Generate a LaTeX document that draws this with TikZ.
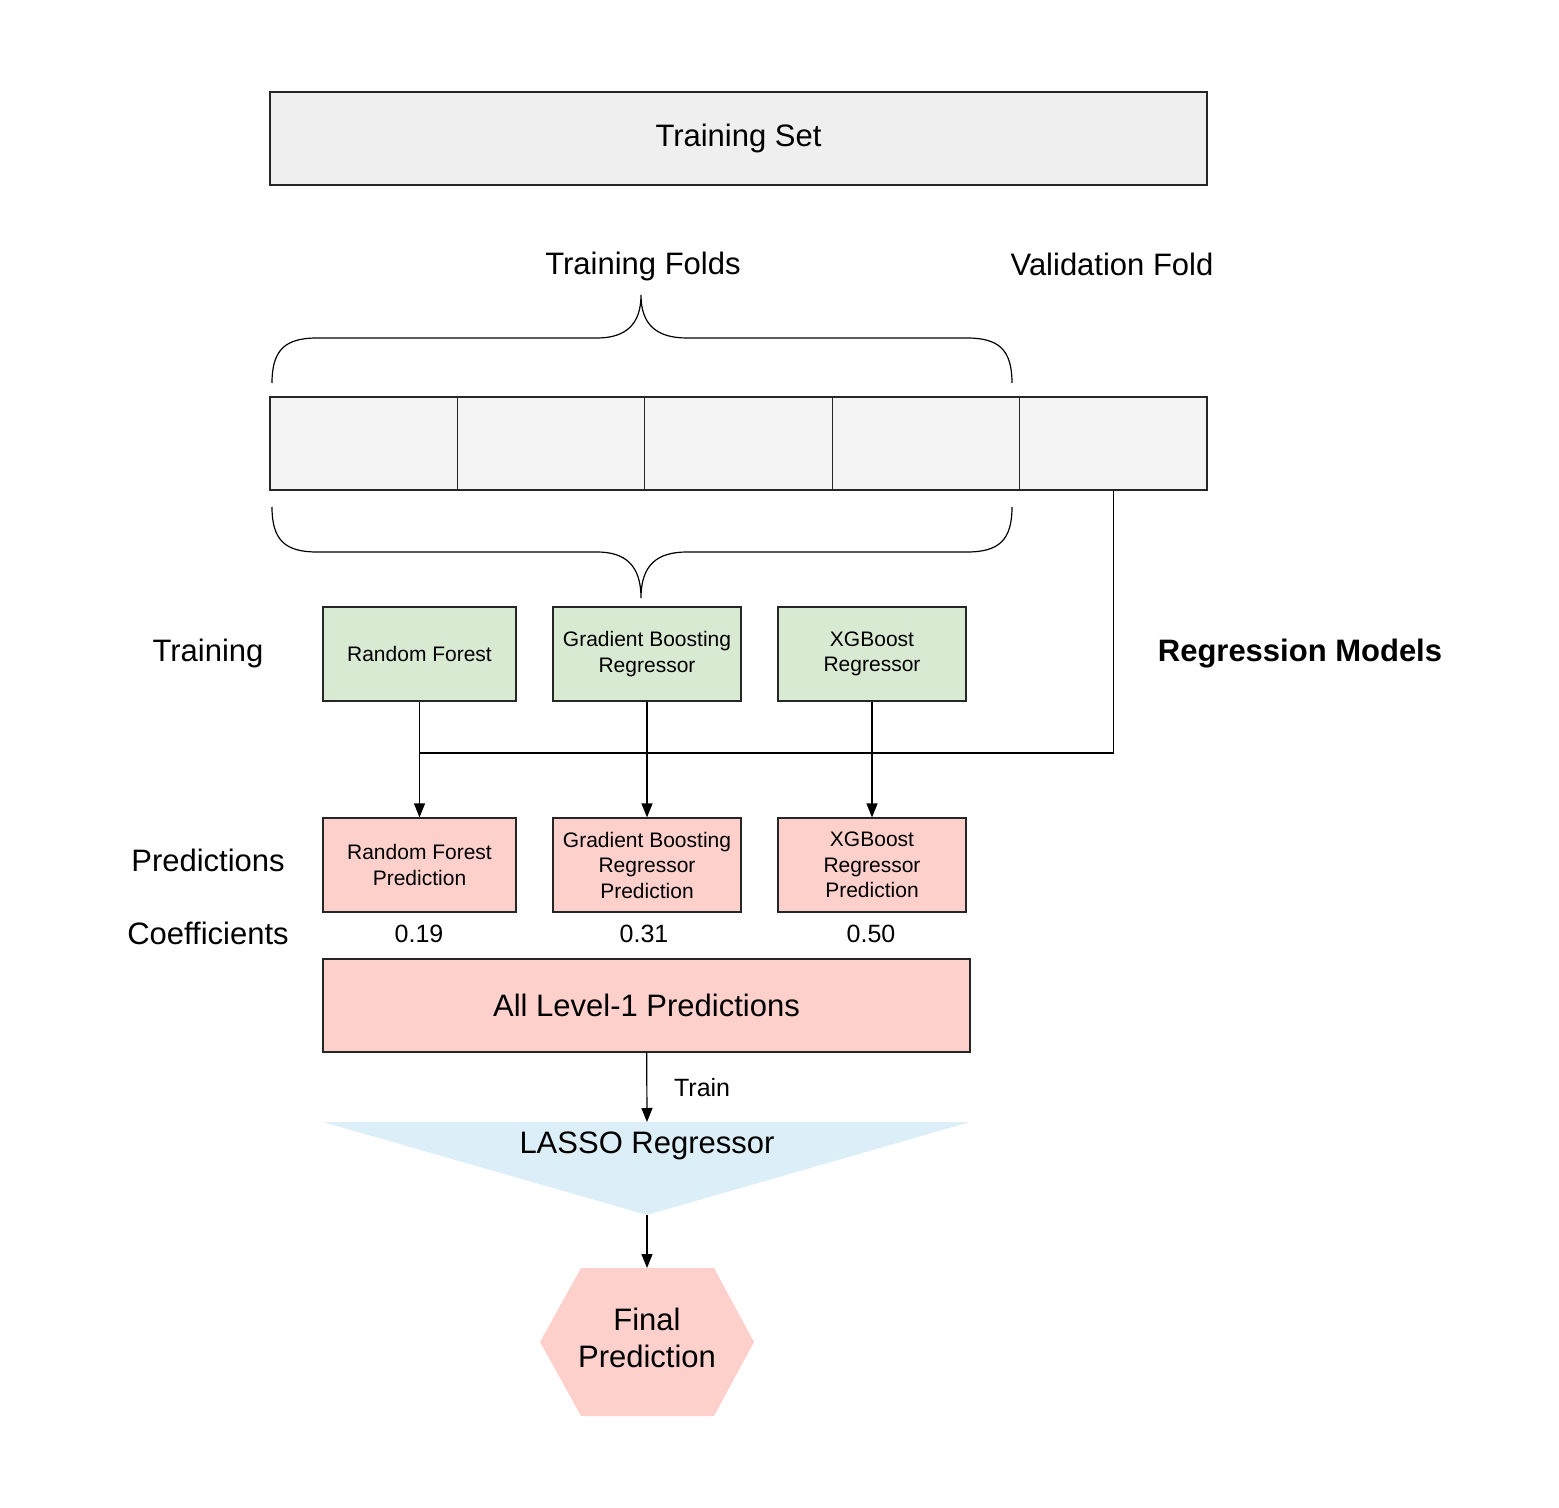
\documentclass[tikz,border=0pt]{standalone}
\usepackage{fontspec}
\setmainfont{Liberation Sans}
\usetikzlibrary{arrows.meta}

\definecolor{setgray}{RGB}{239,239,239}
\definecolor{foldgray}{RGB}{244,244,244}
\definecolor{modelgreen}{RGB}{217,234,211}
\definecolor{predpink}{RGB}{253,208,204}
\definecolor{lassoblue}{RGB}{220,238,248}

\begin{document}
\begin{tikzpicture}[
            x = 0.5pt, y = -0.5pt,
            every node/.style = {font = \fontsize{15.5}{18.6}\selectfont, align = center},
            box/.style = {draw = black!85, line width = 0.6pt, minimum height = 46.5pt, inner sep = 0pt},
            fold/.style = {box, fill = foldgray, minimum width = 93.7pt},
            model/.style = {box, fill = modelgreen, minimum width = 94pt, minimum height = 47pt,
                            font = \fontsize{10.5}{12.75}\selectfont},
            pred/.style = {model, fill = predpink},
            coef/.style = {font = \fontsize{12.5}{15}\selectfont},
            link/.style = {line width = 0.6pt, -{Triangle[length = 7pt, width = 5.5pt]}},
            brace/.style = {line width = 0.6pt}
            ]
            \useasboundingbox (0,0) rectangle (1559,1508);

            \node[box, fill = setgray, minimum width = 468.5pt] (set) at (738.5,138.5) {Training Set};
            \node (folds) at (643,266) {Training Folds};
            \node (valid) at (1112,264) {Validation Fold};

            % five folds of the training set
            \foreach \i in {1,...,5}
                \node[fold] (fold\i) at ({270+187.4*(\i-0.5)},443.5) {};

            % braces round the training folds
            \draw[brace] (272,383) .. controls (272,350) and (285,338) .. (317,338) -- (597,338)
                .. controls (625,338) and (641,325) .. (641,295)
                .. controls (641,325) and (657,338) .. (687,338) -- (967,338)
                .. controls (999,338) and (1012,350) .. (1012,383);
            \draw[brace] (272,507) .. controls (272,540) and (285,552) .. (317,552) -- (597,552)
                .. controls (625,552) and (641,565) .. (641,598)
                .. controls (641,565) and (657,552) .. (687,552) -- (967,552)
                .. controls (999,552) and (1012,540) .. (1012,507);

            % level-0 models
            \node (training) at (208,653) {Training};
            \node[font = \fontsize{15.5}{18.6}\selectfont\bfseries] (regmodels) at (1300,654) {Regression Models};
            \node[model, minimum width = 96.5pt] (rf) at (419.5,654) {Random Forest};
            \node[model] (gb) at (647,654) {Gradient Boosting\\Regressor};
            \node[model] (xgb) at (872,654) {XGBoost\\Regressor};

            % predictions on the validation fold
            \node (predictions) at (208,860) {Predictions};
            \node (coefficients) at (208,933) {Coefficients};
            \node[pred, minimum width = 96.5pt] (rfpred) at (419.5,865) {Random Forest\\Prediction};
            \node[pred] (gbpred) at (647,865) {Gradient Boosting\\Regressor\\Prediction};
            \node[pred] (xgbpred) at (872,865) {XGBoost\\Regressor\\Prediction};
            \node[coef] (rfcoef) at (419,934) {0.19};
            \node[coef] (gbcoef) at (644,934) {0.31};
            \node[coef] (xgbcoef) at (871,934) {0.50};

            \node[box, fill = predpink, minimum width = 323.5pt] (level1) at (646.5,1005.5) {All Level-1 Predictions};

            % validation fold goes to every model
            \coordinate (join) at (419.5,753);
            \draw[line width = 0.6pt] (fold5.south) |- (join);
            \draw[link] (rf) -- (rfpred);
            \draw[link] (gb) -- (gbpred);
            \draw[link] (xgb) -- (xgbpred);

            % meta learner
            \fill[lassoblue] (323,1122) -- (970,1122) -- (647,1215) coordinate (lassotip) -- cycle;
            \coordinate (lassotop) at (647,1122);
            \node (lasso) at (647,1146) {LASSO Regressor};
            \draw[link] (level1) -- (lassotop) node[coef, midway, right = 10pt] (train) {Train};

            \fill[predpink] (581,1268) -- (714,1268) -- (754,1342) -- (714,1416) -- (581,1416) -- (540,1342) -- cycle;
            \coordinate (finaltop) at (647,1268);
            \node (final) at (647,1338) {Final\\Prediction};
            \draw[link] (lassotip) -- (finaltop);
          \end{tikzpicture}
\end{document}
